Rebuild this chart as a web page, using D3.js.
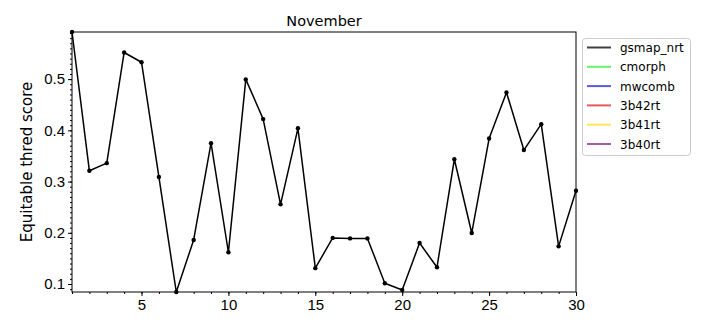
<!DOCTYPE html>
<html>
<head>
<meta charset="utf-8">
<script src="https://cdn.jsdelivr.net/npm/d3@7"></script>
<style>
  body { margin: 0; background: #fff; }
  svg { font-family: "DejaVu Sans", sans-serif; }
</style>
</head>
<body>
<svg id="chart" width="720" height="324"></svg>
<script>
// daily scores for November (only gsmap_nrt has values)
const days = d3.range(1, 31);
const gsmapNrt = [0.592, 0.321, 0.336, 0.552, 0.533, 0.309, 0.0844, 0.186, 0.375, 0.162,
                  0.4995, 0.422, 0.2555, 0.404, 0.131, 0.190, 0.189, 0.189, 0.1015, 0.0883,
                  0.180, 0.1326, 0.3435, 0.1995, 0.384, 0.474, 0.3615, 0.412, 0.1735, 0.282];
const seriesNames = ["gsmap_nrt", "cmorph", "mwcomb", "3b42rt", "3b41rt", "3b40rt"];
const seriesColors = ["#000000", "#33ee33", "#2222dd", "#dd2222", "#ffdd22", "#882288"];
const xTicks = [5, 10, 15, 20, 25, 30];
const yTicks = [0.1, 0.2, 0.3, 0.4, 0.5];

const margin = {top: 32, right: 144, bottom: 32, left: 72};
const width = 720 - margin.left - margin.right;
const height = 324 - margin.top - margin.bottom;

const svg = d3.select("#chart");
const g = svg.append("g")
    .attr("transform", "translate(" + margin.left + "," + margin.top + ")");

const x = d3.scaleLinear().domain([1, 30]).range([0, width]);
const y = d3.scaleLinear().domain([d3.min(gsmapNrt), d3.max(gsmapNrt)]).range([height, 0]);

// minor ticks first
g.append("g")
    .attr("transform", "translate(0," + height + ")")
    .call(d3.axisBottom(x).tickValues(days).tickSize(2).tickFormat(""))
    .call(a => a.select(".domain").remove());
const yMinor = d3.range(9, 60).map(v => v / 100).filter(v => v >= y.domain()[0] && v <= y.domain()[1]);
g.append("g")
    .call(d3.axisLeft(y).tickValues(yMinor).tickSize(2).tickFormat(""))
    .call(a => a.select(".domain").remove());

// major ticks
const xAxis = g.append("g")
    .attr("transform", "translate(0," + height + ")")
    .call(d3.axisBottom(x).tickValues(xTicks).tickSize(4).tickPadding(3).tickFormat(d3.format("d")));
const yAxis = g.append("g")
    .call(d3.axisLeft(y).tickValues(yTicks).tickSize(4).tickPadding(3).tickFormat(d3.format(".1f")));
[xAxis, yAxis].forEach(a => {
  a.selectAll("text").style("font-size", "15px").attr("fill", "#000");
  a.selectAll("line").attr("stroke", "#000");
  a.select(".domain").remove();
});

// frame
g.append("rect")
    .attr("width", width)
    .attr("height", height)
    .attr("fill", "none")
    .attr("stroke", "#000")
    .attr("stroke-width", 1);

// line + markers
const line = d3.line()
    .x((d, i) => x(days[i]))
    .y(d => y(d));
g.append("path")
    .datum(gsmapNrt)
    .attr("d", line)
    .attr("fill", "none")
    .attr("stroke", "#000")
    .attr("stroke-width", 1.5)
    .attr("stroke-linejoin", "round");
g.selectAll("circle.pt")
    .data(gsmapNrt)
    .enter()
    .append("circle")
    .attr("class", "pt")
    .attr("cx", (d, i) => x(days[i]))
    .attr("cy", d => y(d))
    .attr("r", 2.2)
    .attr("fill", "#000");

// title
svg.append("text")
    .attr("x", margin.left + width / 2)
    .attr("y", 26)
    .attr("text-anchor", "middle")
    .style("font-size", "14.5px")
    .text("November");

// y label
svg.append("text")
    .attr("transform", "translate(32," + (margin.top + height / 2) + ") rotate(-90)")
    .attr("text-anchor", "middle")
    .style("font-size", "15px")
    .text("Equitable thred score");

// legend
const legend = svg.append("g").attr("transform", "translate(582,38)");
legend.append("rect")
    .attr("x", 0.5)
    .attr("y", 0.5)
    .attr("width", 108)
    .attr("height", 117)
    .attr("rx", 3)
    .attr("fill", "#fff")
    .attr("stroke", "#ccc");
const items = legend.selectAll("g.item")
    .data(seriesNames)
    .enter()
    .append("g")
    .attr("class", "item")
    .attr("transform", (d, i) => "translate(0," + (9.5 + i * 19.3) + ")");
items.append("line")
    .attr("x1", 5)
    .attr("x2", 29)
    .attr("stroke", (d, i) => seriesColors[i])
    .attr("stroke-opacity", 0.75)
    .attr("stroke-width", 2);
items.append("text")
    .attr("x", 38)
    .attr("y", 4.5)
    .style("font-size", "12px")
    .text(d => d);
</script>
</body>
</html>
